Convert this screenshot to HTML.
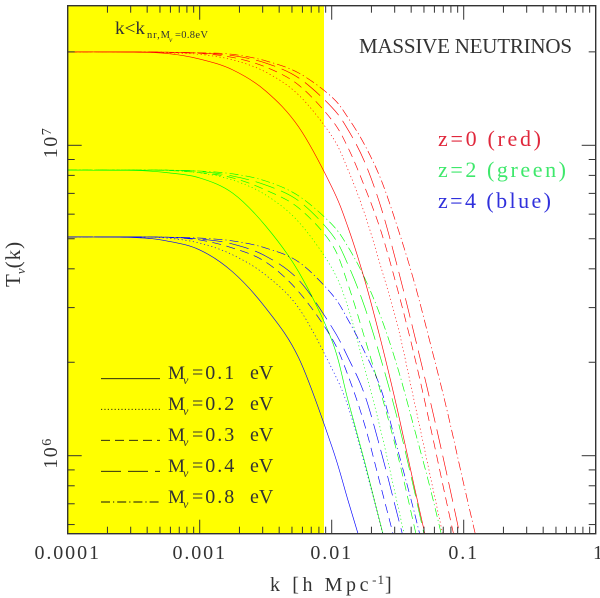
<!DOCTYPE html>
<html>
<head>
<meta charset="utf-8">
<title>Massive neutrinos transfer function</title>
<style>
html,body{margin:0;padding:0;background:#fff;width:600px;height:598px;overflow:hidden}
svg{display:block}
text{font-family:"Liberation Serif",serif;fill:#333}
.curve{fill:none;stroke-width:.65;mix-blend-mode:multiply}
</style>
</head>
<body>
<svg id="chart" xmlns="http://www.w3.org/2000/svg" width="600" height="598" viewBox="0 0 600 598">
  <defs><clipPath id="plot-clip"><rect x="67.7" y="5.7" width="528" height="528"/></clipPath></defs>
  <rect x="0" y="0" width="600" height="598" fill="#fff"/>
  <rect id="band" x="67.7" y="5.7" width="256.3" height="528" fill="#ffff00"/>
  <g id="curves" clip-path="url(#plot-clip)"></g>
  <g id="ticks"></g>
  <rect x="67.7" y="5.7" width="528" height="528" fill="none" stroke="#333" stroke-width="1.4"/>
  <g id="tick-labels"></g>

  <text x="270" y="591" font-size="20" letter-spacing="3.6">k [h Mpc<tspan font-size="13" dy="-7" letter-spacing="1">-1</tspan><tspan dy="7">]</tspan></text>
  <g transform="translate(20,287) rotate(-90)">
    <text x="0" y="0" font-size="21">T<tspan font-size="13" dy="5" font-style="italic">ν</tspan><tspan dy="-5" letter-spacing="1">(k)</tspan></text>
  </g>

  <g>
    <text x="115" y="34" font-size="18" textLength="30" lengthAdjust="spacingAndGlyphs">k&lt;k</text>
    <text x="147" y="38" font-size="10.5" textLength="23" lengthAdjust="spacing">nr,M</text>
    <text x="169" y="42" font-size="7.5" font-style="italic">ν</text>
    <text x="175" y="38" font-size="10.5" textLength="33" lengthAdjust="spacing">=0.8eV</text>
  </g>

  <text x="359" y="53" font-size="21" textLength="213" lengthAdjust="spacing">MASSIVE  NEUTRINOS</text>

  <text x="438" y="146" font-size="22" textLength="103" lengthAdjust="spacing" style="fill:#e0283c">z=0  (red)</text>
  <text x="438" y="177" font-size="22" textLength="128" lengthAdjust="spacing" style="fill:#3fe86c">z=2  (green)</text>
  <text x="438" y="208" font-size="22" textLength="113" lengthAdjust="spacing" style="fill:#3030dc">z=4  (blue)</text>

  <g id="legend" fill="none">
    <g>
      <line x1="101" x2="160" y1="378.7" y2="378.7" stroke="#111" stroke-width=".9"/>
      <text x="168" y="379" font-size="19">M</text><text x="183" y="384" font-size="12" font-style="italic">ν</text>
      <text x="192" y="379" font-size="20" letter-spacing="2">=0.1</text><text x="250" y="379" font-size="20">eV</text>
    </g>
    <g>
      <line x1="101" x2="160" y1="409.3" y2="409.3" stroke="#111" stroke-width=".9" stroke-dasharray="1.2 2.2"/>
      <text x="168" y="410" font-size="19">M</text><text x="183" y="415" font-size="12" font-style="italic">ν</text>
      <text x="192" y="410" font-size="20" letter-spacing="2">=0.2</text><text x="250" y="410" font-size="20">eV</text>
    </g>
    <g>
      <line x1="101" x2="160" y1="440.3" y2="440.3" stroke="#111" stroke-width=".9" stroke-dasharray="9 5"/>
      <text x="168" y="441" font-size="19">M</text><text x="183" y="446" font-size="12" font-style="italic">ν</text>
      <text x="192" y="441" font-size="20" letter-spacing="2">=0.3</text><text x="250" y="441" font-size="20">eV</text>
    </g>
    <g>
      <line x1="101" x2="160" y1="471.3" y2="471.3" stroke="#111" stroke-width=".9" stroke-dasharray="20 7"/>
      <text x="168" y="472" font-size="19">M</text><text x="183" y="477" font-size="12" font-style="italic">ν</text>
      <text x="192" y="472" font-size="20" letter-spacing="2">=0.4</text><text x="250" y="472" font-size="20">eV</text>
    </g>
    <g>
      <line x1="101" x2="160" y1="502" y2="502" stroke="#111" stroke-width=".9" stroke-dasharray="9 3 1.2 3"/>
      <text x="168" y="503" font-size="19">M</text><text x="183" y="508" font-size="12" font-style="italic">ν</text>
      <text x="192" y="503" font-size="20" letter-spacing="2">=0.8</text><text x="250" y="503" font-size="20">eV</text>
    </g>
  </g>
</svg>
<script>
// log10(k) sample grid shared by all curves
const logK = [-4,-3.5,-3.25,-3,-2.75,-2.5,-2.25,-2,-1.875,-1.75,-1.625,-1.5,-1.375,-1.25,-1.125,-1,-0.875];

// log10(T): z=0
const z0M01 = [7.301,7.300,7.296,7.278,7.243,7.175,7.059,6.866,6.734,6.566,6.366,6.144,5.902,5.664];
const z0M02 = [7.301,7.301,7.298,7.293,7.275,7.236,7.162,7.030,6.920,6.779,6.605,6.418,6.176,5.928,5.680];
const z0M03 = [7.301,7.301,7.299,7.296,7.283,7.252,7.194,7.082,6.991,6.866,6.721,6.534,6.324,6.089,5.841,5.600];
const z0M04 = [7.301,7.301,7.300,7.297,7.289,7.265,7.217,7.123,7.049,6.946,6.798,6.605,6.392,6.170,5.935,5.687];
const z0M08 = [7.301,7.301,7.300,7.298,7.293,7.272,7.233,7.156,7.088,7.001,6.888,6.734,6.560,6.357,6.144,5.909,5.680];

// z=2
const z2M01 = [6.920,6.919,6.912,6.895,6.846,6.740,6.592,6.373,6.176,5.980,5.770,5.545];
const z2M02 = [6.920,6.920,6.919,6.911,6.888,6.840,6.753,6.605,6.476,6.282,6.076,5.841,5.600];
const z2M03 = [6.920,6.920,6.919,6.912,6.895,6.856,6.798,6.682,6.550,6.379,6.199,6.002,5.773,5.529];
const z2M04 = [6.920,6.920,6.920,6.916,6.901,6.872,6.821,6.714,6.614,6.479,6.308,6.115,5.889,5.648];
const z2M08 = [6.920,6.920,6.920,6.917,6.908,6.885,6.837,6.746,6.672,6.572,6.444,6.283,6.089,5.889,5.667];

// z=4
const z4M01 = [6.705,6.703,6.692,6.663,6.592,6.476,6.315,6.031,5.854,5.677];
const z4M02 = [6.705,6.705,6.701,6.685,6.647,6.582,6.476,6.282,6.157,5.970,5.770,5.567];
const z4M03 = [6.705,6.705,6.703,6.695,6.669,6.624,6.528,6.379,6.257,6.099,5.896,5.690];
const z4M04 = [6.705,6.705,6.704,6.698,6.682,6.643,6.566,6.415,6.315,6.196,6.012,5.806,5.600];
const z4M08 = [6.705,6.705,6.704,6.701,6.692,6.669,6.624,6.521,6.437,6.334,6.212,6.019,5.819,5.600];

// tick values and labels
const xDecades = [-4,-3,-2,-1,0];
const xTickLabels = ["0.0001","0.001","0.01","0.1","1"];
const yDecades = [6,7];
const yTickBases = ["10","10"];
const yTickExponents = ["6","7"];
const minorMultipliers = [2,3,4,5,6,7,8,9];

const SVG_NS = "http://www.w3.org/2000/svg";
function xScale(lk){ return 67.7 + 132 * (lk + 4); }
function yScale(lt){ return 145.3 + 310.4 * (7 - lt); }

const styles = {
  m01:"", m02:"1.2 2.6", m03:"9 5.5", m04:"20 7", m08:"9 3 1.2 3"
};
const colors = {z0:"#ff0000", z2:"#00ff00", z4:"#0000ff"};
const seriesList = [
  ["z4","m01",z4M01],["z4","m02",z4M02],["z4","m03",z4M03],["z4","m04",z4M04],["z4","m08",z4M08],
  ["z2","m01",z2M01],["z2","m02",z2M02],["z2","m03",z2M03],["z2","m04",z2M04],["z2","m08",z2M08],
  ["z0","m01",z0M01],["z0","m02",z0M02],["z0","m03",z0M03],["z0","m04",z0M04],["z0","m08",z0M08]
];

function smoothPath(pts){
  let d = "M" + pts[0][0].toFixed(2) + " " + pts[0][1].toFixed(2);
  for(let i = 0; i < pts.length - 1; i++){
    const p0 = pts[Math.max(i - 1, 0)], p1 = pts[i], p2 = pts[i + 1], p3 = pts[Math.min(i + 2, pts.length - 1)];
    const c1x = p1[0] + (p2[0] - p0[0]) / 6, c1y = p1[1] + (p2[1] - p0[1]) / 6;
    const c2x = p2[0] - (p3[0] - p1[0]) / 6, c2y = p2[1] - (p3[1] - p1[1]) / 6;
    d += "C" + c1x.toFixed(2) + " " + c1y.toFixed(2) + " " + c2x.toFixed(2) + " " + c2y.toFixed(2) + " " + p2[0].toFixed(2) + " " + p2[1].toFixed(2);
  }
  return d;
}

const curvesGroup = document.getElementById("curves");
seriesList.forEach(function(s){
  const pts = s[2].map(function(v, i){ return [xScale(logK[i]), yScale(v)]; });
  const path = document.createElementNS(SVG_NS, "path");
  path.setAttribute("class", "curve");
  path.setAttribute("d", smoothPath(pts));
  path.setAttribute("stroke", colors[s[0]]);
  if(styles[s[1]]) path.setAttribute("stroke-dasharray", styles[s[1]]);
  
  
  curvesGroup.appendChild(path);
});

const ticksGroup = document.getElementById("ticks");
function tick(x1, y1, x2, y2, name){
  const l = document.createElementNS(SVG_NS, "line");
  l.setAttribute("x1", x1);
  l.setAttribute("y1", y1);
  l.setAttribute("x2", x2);
  l.setAttribute("y2", y2);
  l.setAttribute("stroke", "#333");
  l.setAttribute("stroke-width", "1");
  
  
  ticksGroup.appendChild(l);
}
const TOP = 5.7, BOTTOM = 533.7, LEFT = 67.7, RIGHT = 595.7;
xDecades.forEach(function(d){
  const x = xScale(d);
  if(d > -4 && d < 0){
    tick(x, BOTTOM, x, BOTTOM - 14, "x-major-tick");
    tick(x, TOP, x, TOP + 14, "x-major-tick-top");
  }
  if(d < 0){
    minorMultipliers.forEach(function(m){
      const xm = xScale(d + Math.log10(m));
      tick(xm, BOTTOM, xm, BOTTOM - 7, "x-minor-tick");
      tick(xm, TOP, xm, TOP + 7, "x-minor-tick-top");
    });
  }
});
[5,6,7].forEach(function(d){
  const y = yScale(d);
  if(y > TOP && y < BOTTOM){
    tick(LEFT, y, LEFT + 14, y, "y-major-tick");
    tick(RIGHT, y, RIGHT - 14, y, "y-major-tick-right");
  }
  minorMultipliers.forEach(function(m){
    const ym = yScale(d + Math.log10(m));
    if(ym > TOP && ym < BOTTOM){
      tick(LEFT, ym, LEFT + 7, ym, "y-minor-tick");
      tick(RIGHT, ym, RIGHT - 7, ym, "y-minor-tick-right");
    }
  });
});

const labelsGroup = document.getElementById("tick-labels");
xDecades.forEach(function(d, i){
  const t = document.createElementNS(SVG_NS, "text");
  const last = i === xDecades.length - 1;
  t.setAttribute("x", last ? 593 : xScale(d));
  t.setAttribute("y", 559);
  t.setAttribute("font-size", "20");
  t.setAttribute("letter-spacing", "1.9");
  t.setAttribute("text-anchor", last ? "start" : "middle");
  t.textContent = xTickLabels[i];
  
  
  labelsGroup.appendChild(t);
});
yDecades.forEach(function(d, i){
  const g = document.createElementNS(SVG_NS, "g");
  g.setAttribute("transform", "translate(57," + (yScale(d) + 13) + ") rotate(-90)");
  
  
  const t = document.createElementNS(SVG_NS, "text");
  t.setAttribute("font-size", "20");
  t.setAttribute("letter-spacing", "1.5");
  t.textContent = yTickBases[i];
  g.appendChild(t);
  const e = document.createElementNS(SVG_NS, "text");
  e.setAttribute("x", "23");
  e.setAttribute("y", "-6");
  e.setAttribute("font-size", "14");
  e.textContent = yTickExponents[i];
  g.appendChild(e);
  labelsGroup.appendChild(g);
});
</script>
</body>
</html>
